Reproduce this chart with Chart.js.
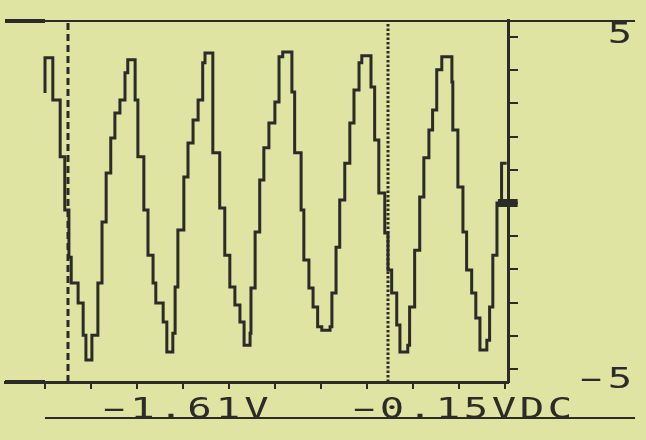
<!DOCTYPE html>
<html>
<head>
<meta charset="utf-8">
<script src="https://cdn.jsdelivr.net/npm/chart.js@4"></script>
<style>
  html, body { margin: 0; padding: 0; background: #dfe4a2; }
  canvas { display: block; }
</style>
</head>
<body>
<canvas id="myChart" width="646" height="440"></canvas>
<script>
// scope trace: x in divisions, y in volts (stepped, each point = new level)
var waveX = [0.00, 0.00, 0.17, 0.33, 0.43, 0.52, 0.57, 0.72, 0.83, 0.89,
    1.02, 1.15, 1.24, 1.33, 1.43, 1.52, 1.63, 1.74, 1.80, 1.96,
    2.02, 2.15, 2.24, 2.35, 2.41, 2.57, 2.65, 2.78, 2.83, 2.89,
    3.02, 3.11, 3.22, 3.33, 3.43, 3.48, 3.65, 3.80, 3.91, 4.02,
    4.13, 4.24, 4.33, 4.46, 4.48, 4.57, 4.67, 4.76, 4.87, 5.00,
    5.09, 5.17, 5.37, 5.43, 5.57, 5.63, 5.74, 5.83, 5.93, 6.02,
    6.20, 6.24, 6.33, 6.41, 6.52, 6.63, 6.72, 6.83, 6.89, 7.09,
    7.17, 7.26, 7.39, 7.46, 7.54, 7.65, 7.72, 7.89, 7.93, 8.04,
    8.15, 8.24, 8.35, 8.43, 8.52, 8.63, 8.85, 8.87, 8.98, 9.09,
    9.17, 9.28, 9.37, 9.46, 9.61, 9.67, 9.74, 9.83, 9.93, 10.04];
var waveY = [3.31, 4.37, 3.10, 1.39, -0.21, -1.63, -2.41, -3.01, -3.98, -4.73,
    -3.98, -2.41, -0.57, 0.90, 1.96, 2.71, 3.10, 3.92, 4.31, 3.10,
    1.39, -0.21, -1.57, -2.41, -3.01, -3.58, -4.49, -3.92, -2.53, -0.81,
    0.78, 1.81, 2.50, 3.10, 4.22, 4.52, 1.51, -0.15, -1.57, -2.53,
    -3.07, -3.58, -4.28, -3.92, -2.56, -0.87, 0.69, 1.66, 2.41, 3.04,
    4.40, 4.55, 3.34, 1.51, -0.21, -1.72, -2.56, -3.13, -3.73, -3.83,
    -3.73, -2.71, -1.33, 0.09, 1.20, 2.41, 3.40, 4.22, 4.43, 3.49,
    1.90, 0.30, -0.90, -2.02, -2.71, -3.67, -4.49, -4.28, -3.13, -1.42,
    0.18, 1.36, 2.20, 2.80, 4.01, 4.40, 3.64, 2.20, 0.48, -0.87,
    -2.02, -2.71, -3.46, -4.43, -4.13, -3.13, -1.57, 0.00, 1.20, 1.20];

var cursorA = 0.50;   // dashed cursor
var cursorB = 7.46;   // dotted cursor
var groundLevel = 0;
var readoutA = '-1.61V';
var readoutB = '-0.15VDC';
var yTopLabel = '5';
var yBottomLabel = '-5';

var xMin = -0.87, xMax = 10.07;
var yMin = -5.39, yMax = 5.51;

var lcd = '#dfe4a2';
var ink = '#2b2b28';

var wave = waveX.map(function (x, i) { return { x: x, y: waveY[i] }; });

// lcd-ish text: fixed pitch, stretched glyphs, long minus bar
function lcdText(c, str, cx, base, pitch) {
    c.font = '29px "DejaVu Sans Mono"';
    c.textAlign = 'center';
    c.textBaseline = 'alphabetic';
    for (var i = 0; i < str.length; i++) {
        c.save();
        c.translate(cx + i * pitch, base);
        c.scale(str[i] === '-' ? 2.5 : 1.4, 1);
        c.fillText(str[i], 0, 0);
        c.restore();
    }
}

function hline(c, x1, x2, y, w) {
    c.lineWidth = w;
    c.beginPath();
    c.moveTo(x1, y);
    c.lineTo(x2, y);
    c.stroke();
}

var lcdDecor = {
    id: 'lcdDecor',
    beforeDraw: function (chart) {
        var c = chart.ctx;
        c.save();
        c.fillStyle = lcd;
        c.fillRect(0, 0, chart.width, chart.height);
        c.restore();
    },
    afterDraw: function (chart) {
        var c = chart.ctx, a = chart.chartArea;
        var x0 = chart.scales.x.getPixelForValue(0);
        c.save();
        c.strokeStyle = ink;
        c.fillStyle = ink;
        hline(c, a.left, 635, a.top + 1, 2);
        hline(c, a.left, x0, a.top + 1, 4);
        hline(c, a.left, x0, a.bottom, 4);
        hline(c, x0, 635, 418, 2);
        lcdText(c, yTopLabel, 620, 43, 28);
        lcdText(c, yBottomLabel, 591, 388, 29);
        lcdText(c, readoutA, 114, 418, 28.5);
        lcdText(c, readoutB, 364, 418, 28);
        c.restore();
    }
};

var ctx = document.getElementById('myChart');

var myChart = new Chart(ctx, {
    type: 'line',
    data: {
        datasets: [{
            label: 'trace',
            data: wave,
            borderColor: ink,
            borderWidth: 3,
            stepped: 'before',
            borderJoinStyle: 'miter',
            pointRadius: 0,
            fill: false
        }, {
            label: 'cursor A',
            data: [{ x: cursorA, y: yMin }, { x: cursorA, y: yMax }],
            borderColor: ink,
            borderWidth: 3,
            borderDash: [7, 4],
            pointRadius: 0
        }, {
            label: 'cursor B',
            data: [{ x: cursorB, y: yMin }, { x: cursorB, y: yMax }],
            borderColor: ink,
            borderWidth: 3,
            borderDash: [2.5, 2],
            pointRadius: 0
        }, {
            label: 'ground',
            data: [{ x: 9.85, y: groundLevel }, { x: 10.28, y: groundLevel }],
            borderColor: ink,
            borderWidth: 8,
            pointRadius: 0,
            clip: false
        }]
    },
    options: {
        responsive: false,
        animation: false,
        layout: { padding: { left: 5, top: 20, right: 0, bottom: 0 } },
        plugins: {
            legend: { display: false },
            tooltip: { enabled: false }
        },
        scales: {
            x: {
                type: 'linear',
                position: 'bottom',
                min: xMin,
                max: xMax,
                ticks: { display: false, stepSize: 1, includeBounds: false },
                grid: { drawOnChartArea: false, drawTicks: true, tickLength: 7, color: ink, lineWidth: 2 },
                border: { display: true, color: ink, width: 3 },
                afterFit: function (s) { s.height = 58; }
            },
            y: {
                type: 'linear',
                position: 'right',
                min: yMin,
                max: yMax,
                ticks: { display: false, stepSize: 1, includeBounds: false },
                grid: { drawOnChartArea: false, drawTicks: true, tickLength: 10, color: ink, lineWidth: 2 },
                border: { display: true, color: ink, width: 3 },
                afterFit: function (s) { s.width = 138; }
            }
        }
    },
    plugins: [lcdDecor]
});
</script>
</body>
</html>
